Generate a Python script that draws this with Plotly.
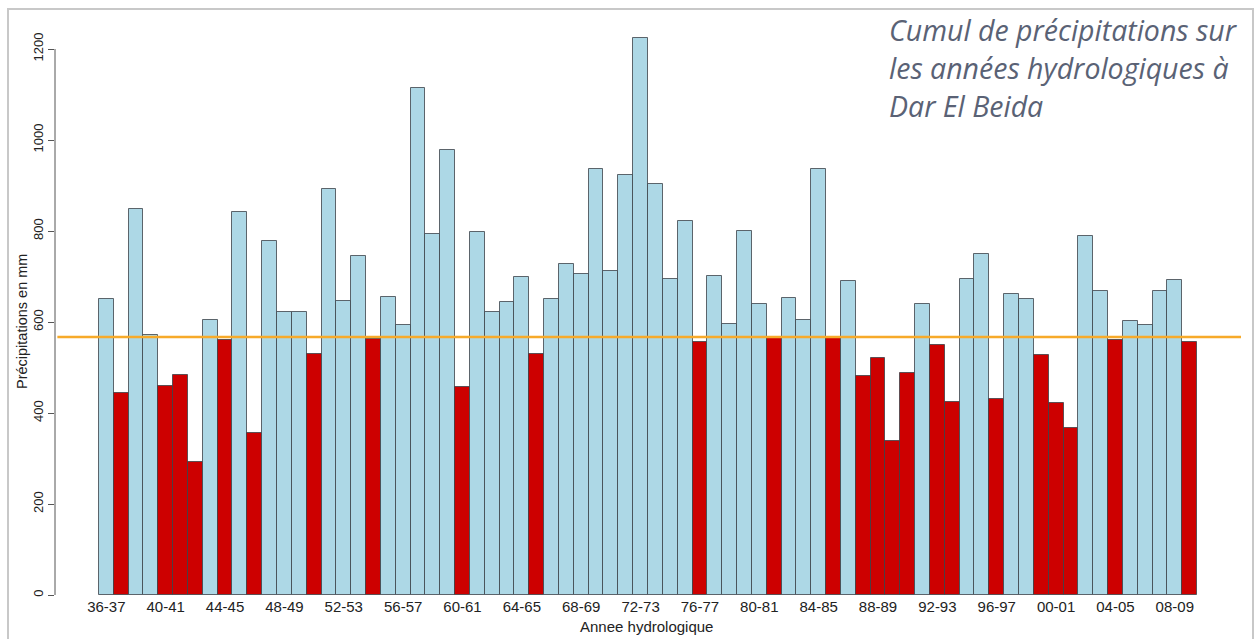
import plotly.graph_objects as go

# ---------------- data ----------------
years = ["36-37", "37-38", "38-39", "39-40", "40-41", "41-42", "42-43", "43-44", "44-45", "45-46",
         "46-47", "47-48", "48-49", "49-50", "50-51", "51-52", "52-53", "53-54", "54-55", "55-56",
         "56-57", "57-58", "58-59", "59-60", "60-61", "61-62", "62-63", "63-64", "64-65", "65-66",
         "66-67", "67-68", "68-69", "69-70", "70-71", "71-72", "72-73", "73-74", "74-75", "75-76",
         "76-77", "77-78", "78-79", "79-80", "80-81", "81-82", "82-83", "83-84", "84-85", "85-86",
         "86-87", "87-88", "88-89", "89-90", "90-91", "91-92", "92-93", "93-94", "94-95", "95-96",
         "96-97", "97-98", "98-99", "99-00", "00-01", "01-02", "02-03", "03-04", "04-05", "05-06",
         "06-07", "07-08", "08-09", "09-10"]

precip = [651, 445, 848, 572, 459, 484, 293, 604, 561, 841,
          356, 778, 621, 621, 529, 892, 647, 745, 563, 654,
          593, 1114, 793, 979, 458, 797, 621, 643, 698, 530,
          651, 728, 705, 936, 713, 924, 1224, 903, 694, 822,
          557, 702, 596, 801, 640, 566, 653, 604, 936, 566,
          690, 482, 521, 339, 488, 639, 549, 424, 694, 749,
          431, 662, 651, 528, 421, 368, 790, 669, 561, 603,
          594, 669, 693, 555]

reference_mean = 567

shown_labels = ["36-37", "40-41", "44-45", "48-49", "52-53", "56-57", "60-61", "64-65", "68-69",
                "72-73", "76-77", "80-81", "84-85", "88-89", "92-93", "96-97", "00-01", "04-05", "08-09"]

y_ticks = [0, 200, 400, 600, 800, 1000, 1200]

# ---------------- layout geometry ----------------
W, H = 1256, 639
L, R, T, B = 55, 15, 16, 44
PW, PH = W - L - R, H - T - B


def px_x(p):
    return (p - L) / PW


def px_y(p):
    return (H - B - p) / PH


idx = list(range(len(years)))
colors = ["#CD0000" if v < reference_mean else "#ADD8E6" for v in precip]
tick_idx = [years.index(s) for s in shown_labels]

fig = go.Figure()
fig.add_trace(go.Bar(
    x=idx, y=precip, width=1.0,
    marker=dict(color=colors, line=dict(color="rgba(60,66,72,0.8)", width=1)),
    showlegend=False, hoverinfo="x+y",
))

n = len(years)
pad = 0.04 * n
title_font = dict(family="Open Sans, Lato, sans-serif", size=28.5, color="#5A6275")
fig.update_layout(
    width=W, height=H,
    margin=dict(l=L, r=R, t=T, b=B, pad=0),
    paper_bgcolor="white", plot_bgcolor="white",
    font=dict(family="Liberation Sans, Arial, sans-serif", color="#222222"),
    bargap=0,
    xaxis=dict(
        range=[-0.5 - pad, n - 0.5 + pad],
        tickmode="array", tickvals=tick_idx, ticktext=shown_labels,
        showgrid=False, zeroline=False, showline=False, ticks="",
        tickfont=dict(size=15, color="#222222"),
        ticklabelstandoff=1,
    ),
    yaxis=dict(
        range=[0, PH / 0.455],
        tickmode="array", tickvals=y_ticks, ticktext=[str(v) for v in y_ticks],
        tickangle=-90,
        showgrid=False, zeroline=False, showline=False,
        ticks="outside", ticklen=6, tickcolor="#555555", tickwidth=1,
        tickfont=dict(size=13, color="#222222"),
    ),
    shapes=[
        # y axis line (from 0 to 1200 only, R style)
        dict(type="line", xref="paper", yref="y", x0=0, x1=0, y0=y_ticks[0], y1=y_ticks[-1],
             line=dict(color="#555555", width=1)),
        # reference (mean) line
        dict(type="line", xref="paper", yref="y", x0=0.002, x1=1.0, y0=reference_mean, y1=reference_mean,
             line=dict(color="#F7AA2A", width=2.5), layer="above"),
        # outer frame
        dict(type="rect", xref="paper", yref="paper",
             x0=px_x(8), x1=px_x(1253), y0=px_y(660), y1=px_y(9),
             line=dict(color="#C8C8C8", width=2), fillcolor="rgba(0,0,0,0)"),
    ],
    annotations=[
        dict(text="Précipitations en mm", xref="paper", yref="paper",
             x=px_x(22), y=px_y(322), textangle=-90, showarrow=False,
             xanchor="center", yanchor="middle", font=dict(size=14.5, color="#222222")),
        dict(text="Annee hydrologique", xref="paper", yref="paper",
             x=px_x(646), y=px_y(626), showarrow=False,
             xanchor="center", yanchor="middle", font=dict(size=15, color="#222222")),
        dict(text="<i>Cumul de précipitations sur</i>", xref="paper", yref="paper",
             x=px_x(887), y=px_y(30), showarrow=False, xanchor="left", yanchor="middle",
             font=title_font),
        dict(text="<i>les années hydrologiques à</i>", xref="paper", yref="paper",
             x=px_x(887), y=px_y(68), showarrow=False, xanchor="left", yanchor="middle",
             font=title_font),
        dict(text="<i>Dar El Beida</i>", xref="paper", yref="paper",
             x=px_x(887), y=px_y(106), showarrow=False, xanchor="left", yanchor="middle",
             font=title_font),
    ],
)

fig.write_html("out.html")
